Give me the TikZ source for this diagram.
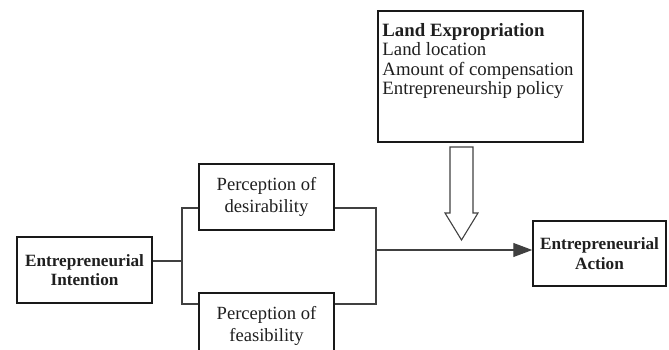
\documentclass[tikz,border=0pt]{standalone}
\usepackage{fontspec}
\setmainfont{Liberation Serif}
\usetikzlibrary{arrows.meta,calc}
\begin{document}
\begin{tikzpicture}[x=1pt,y=-1pt,
  box/.style={draw=black!90,line width=1.5pt,inner sep=0pt,align=center,text=black!88},
  conn/.style={draw=black!75,line width=1.1pt},
  regtext/.style={font=\fontsize{18.6}{22}\selectfont},
  boldtext/.style={font=\fontsize{17.2}{19.5}\selectfont\bfseries}]
\useasboundingbox (0,0) rectangle (669,350);
\clip (0,0) rectangle (669,350);
\node[box,boldtext,minimum width=135pt,minimum height=66pt] (int) at (84.5,270) {Entrepreneurial\\Intention};
\node[box,regtext,minimum width=135pt,minimum height=66pt] (des) at (266.5,197) {Perception of\\desirability};
\node[box,regtext,minimum width=135pt,minimum height=66pt] (fea) at (266.5,326) {Perception of\\feasibility};
\node[box,boldtext,minimum width=133pt,minimum height=65pt] (act) at (599.5,253.5) {Entrepreneurial\\Action};
\node[box,minimum width=205pt,minimum height=131pt] (land) at (480.5,76.5) {};
\node[anchor=north west,inner sep=0pt,align=left,text=black!88,font=\fontsize{18.8}{19.5}\selectfont] (landtext) at ([shift={(5,13)}]land.north west)
  {\textbf{Land Expropriation}\\Land location\\Amount of compensation\\Entrepreneurship policy};
\coordinate (bltop) at (182,208);
\coordinate (blbot) at (182,304);
\coordinate (blmid) at (182,261);
\coordinate (brtop) at (376,208);
\coordinate (brbot) at (376,304);
\coordinate (brmid) at (376,250);
\draw[conn] (int.east |- blmid) -- (blmid);
\draw[conn] (des.west |- bltop) -- (bltop) -- (blbot) -- (fea.west |- blbot);
\draw[conn] (des.east |- brtop) -- (brtop) -- (brbot) -- (fea.east |- brbot);
\draw[conn,-{Triangle[length=19pt,width=14pt]}] (brmid) -- (act.west |- brmid);
\draw[conn,line join=miter] (450,147) -- (473,147) -- (473,213) -- (478,213) -- (461.5,240) -- (445,213) -- (450,213) -- cycle;
\end{tikzpicture}
\end{document}
